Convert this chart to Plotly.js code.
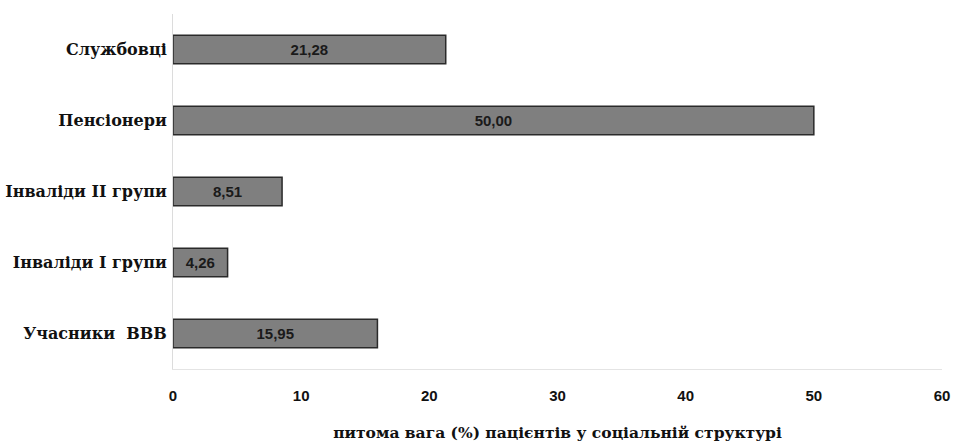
<!DOCTYPE html>
<html>
<head>
<meta charset="utf-8">
<script src="https://cdn.plot.ly/plotly-3.0.1.min.js"></script>
<style>html,body{margin:0;padding:0;background:#fff;}#chart{width:957px;height:445px;}</style>
</head>
<body>
<div id="chart"></div>
<script>
var categories = ["Учасники  ВВВ", "Інваліди І групи", "Інваліди ІІ групи", "Пенсіонери", "Службовці"];
var values = [15.95, 4.26, 8.51, 50.00, 21.28];
var xTicks = [0, 10, 20, 30, 40, 50, 60];
var xTitle = "питома вага (%) пацієнтів у соціальній структурі";

var trace = {
  type: "bar",
  orientation: "h",
  y: categories,
  x: values,
  width: 0.4,
  marker: {color: "#7f7f7f", line: {color: "#2a2a2a", width: 1.5}},
  texttemplate: "%{x:.2f}",
  textposition: "inside",
  insidetextanchor: "middle",
  textfont: {family: "Liberation Sans, Arial, sans-serif", size: 15, color: "#1a1a1a", weight: "bold"},
  hoverinfo: "none"
};

var layout = {
  width: 957, height: 445,
  margin: {l: 173, r: 15, t: 14, b: 76},
  paper_bgcolor: "#fff", plot_bgcolor: "#fff",
  separators: ",.",
  showlegend: false,
  xaxis: {
    range: [0, 60], tickvals: xTicks, ticktext: xTicks.map(String),
    showgrid: false, zeroline: false, showline: true, linecolor: "#e4e4e4", linewidth: 1,
    ticks: "", ticklabelstandoff: 13,
    tickfont: {family: "Liberation Sans, Arial, sans-serif", size: 15, color: "#111", weight: "bold"},
    title: {text: xTitle, standoff: 24, font: {family: "DejaVu Serif, serif", size: 15.5, color: "#111", weight: "bold"}}
  },
  yaxis: {
    type: "category", categoryorder: "array", categoryarray: categories,
    range: [-0.5, 4.5],
    showgrid: false, zeroline: false, showline: true, linecolor: "#dcdcdc", linewidth: 1,
    ticks: "", ticklabelstandoff: 2,
    tickfont: {family: "DejaVu Serif, serif", size: 16, color: "#111", weight: "bold"}
  }
};

Plotly.newPlot("chart", [trace], layout, {displayModeBar: false, staticPlot: true});
</script>
</body>
</html>
